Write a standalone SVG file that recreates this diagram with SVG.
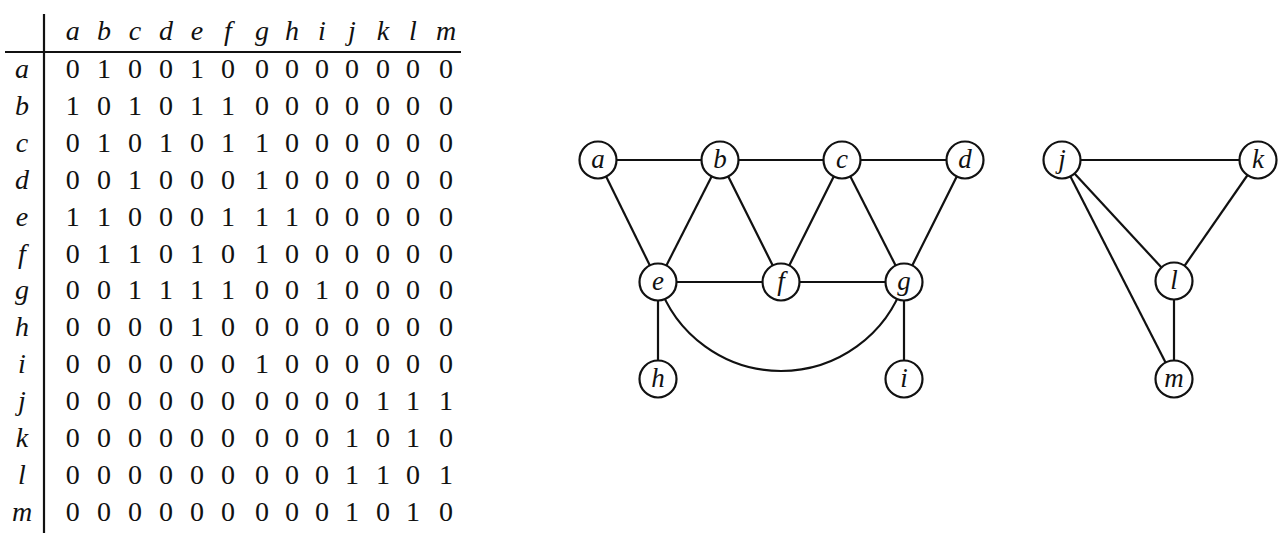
<svg xmlns="http://www.w3.org/2000/svg" width="1285" height="533" viewBox="0 0 1285 533">
<style>
.m{font-family:"Liberation Serif","DejaVu Serif",serif;font-size:28px;fill:#111;text-anchor:middle}
.it{font-style:italic}
.rule{stroke:#111;stroke-width:2.2;fill:none}
.edge{stroke:#111;stroke-width:2.2;fill:none}
.node circle{fill:#fff;stroke:#111;stroke-width:2.2}
.node text{font-family:"Liberation Serif","DejaVu Serif",serif;font-style:italic;font-size:27px;fill:#111;text-anchor:middle}
</style>
<rect width="1285" height="533" fill="#fff"/>
<g id="matrix">
<line class="rule" x1="44" y1="14" x2="44" y2="533"/>
<line class="rule" x1="5" y1="52" x2="461" y2="52"/>
<text class="m it" x="72.7 104 135 166 197 228 262 292 322 352 383 413 446" y="40">abcdefghijklm</text>
<text class="m it" x="22" y="78">a</text>
<text class="m it" x="22" y="114.9">b</text>
<text class="m it" x="22" y="151.8">c</text>
<text class="m it" x="22" y="188.7">d</text>
<text class="m it" x="22" y="225.6">e</text>
<text class="m it" x="22" y="262.5">f</text>
<text class="m it" x="22" y="299.4">g</text>
<text class="m it" x="22" y="336.3">h</text>
<text class="m it" x="22" y="373.2">i</text>
<text class="m it" x="22" y="410.1">j</text>
<text class="m it" x="22" y="447">k</text>
<text class="m it" x="22" y="483.9">l</text>
<text class="m it" x="22" y="520.8">m</text>
<text class="m" x="72.7 104 135 166 197 228 262 292 322 352 383 413 446" y="78">0100100000000</text>
<text class="m" x="72.7 104 135 166 197 228 262 292 322 352 383 413 446" y="114.9">1010110000000</text>
<text class="m" x="72.7 104 135 166 197 228 262 292 322 352 383 413 446" y="151.8">0101011000000</text>
<text class="m" x="72.7 104 135 166 197 228 262 292 322 352 383 413 446" y="188.7">0010001000000</text>
<text class="m" x="72.7 104 135 166 197 228 262 292 322 352 383 413 446" y="225.6">1100011100000</text>
<text class="m" x="72.7 104 135 166 197 228 262 292 322 352 383 413 446" y="262.5">0110101000000</text>
<text class="m" x="72.7 104 135 166 197 228 262 292 322 352 383 413 446" y="299.4">0011110010000</text>
<text class="m" x="72.7 104 135 166 197 228 262 292 322 352 383 413 446" y="336.3">0000100000000</text>
<text class="m" x="72.7 104 135 166 197 228 262 292 322 352 383 413 446" y="373.2">0000001000000</text>
<text class="m" x="72.7 104 135 166 197 228 262 292 322 352 383 413 446" y="410.1">0000000000111</text>
<text class="m" x="72.7 104 135 166 197 228 262 292 322 352 383 413 446" y="447">0000000001010</text>
<text class="m" x="72.7 104 135 166 197 228 262 292 322 352 383 413 446" y="483.9">0000000001101</text>
<text class="m" x="72.7 104 135 166 197 228 262 292 322 352 383 413 446" y="520.8">0000000001010</text>
</g>
<g id="edges">
<line class="edge" x1="598" y1="160" x2="720" y2="160"/>
<line class="edge" x1="720" y1="160" x2="842" y2="160"/>
<line class="edge" x1="842" y1="160" x2="965" y2="160"/>
<line class="edge" x1="598" y1="160" x2="658" y2="282"/>
<line class="edge" x1="720" y1="160" x2="658" y2="282"/>
<line class="edge" x1="720" y1="160" x2="781" y2="282"/>
<line class="edge" x1="842" y1="160" x2="781" y2="282"/>
<line class="edge" x1="842" y1="160" x2="904" y2="282"/>
<line class="edge" x1="965" y1="160" x2="904" y2="282"/>
<line class="edge" x1="658" y1="282" x2="904" y2="282"/>
<line class="edge" x1="658" y1="282" x2="658" y2="379"/>
<line class="edge" x1="904" y1="282" x2="904" y2="379"/>
<path class="edge" d="M658 282 A129.5 129.5 0 0 0 904 282"/>
<line class="edge" x1="1062" y1="160" x2="1258" y2="160"/>
<line class="edge" x1="1062" y1="160" x2="1174" y2="281"/>
<line class="edge" x1="1062" y1="160" x2="1174" y2="379"/>
<line class="edge" x1="1258" y1="160" x2="1174" y2="281"/>
<line class="edge" x1="1174" y1="281" x2="1174" y2="379"/>
</g>
<g id="node-a" class="node"><circle cx="598" cy="160" r="18.5"/><text x="598" y="168">a</text></g>
<g id="node-b" class="node"><circle cx="720" cy="160" r="18.5"/><text x="720" y="168">b</text></g>
<g id="node-c" class="node"><circle cx="842" cy="160" r="18.5"/><text x="842" y="168">c</text></g>
<g id="node-d" class="node"><circle cx="965" cy="160" r="18.5"/><text x="965" y="168">d</text></g>
<g id="node-e" class="node"><circle cx="658" cy="282" r="18.5"/><text x="658" y="290">e</text></g>
<g id="node-f" class="node"><circle cx="781" cy="282" r="18.5"/><text x="781" y="290">f</text></g>
<g id="node-g" class="node"><circle cx="904" cy="282" r="18.5"/><text x="904" y="290">g</text></g>
<g id="node-h" class="node"><circle cx="658" cy="379" r="18.5"/><text x="658" y="387">h</text></g>
<g id="node-i" class="node"><circle cx="904" cy="379" r="18.5"/><text x="904" y="387">i</text></g>
<g id="node-j" class="node"><circle cx="1062" cy="160" r="18.5"/><text x="1062" y="168">j</text></g>
<g id="node-k" class="node"><circle cx="1258" cy="160" r="18.5"/><text x="1258" y="168">k</text></g>
<g id="node-l" class="node"><circle cx="1174" cy="281" r="18.5"/><text x="1174" y="289">l</text></g>
<g id="node-m" class="node"><circle cx="1174" cy="379" r="18.5"/><text x="1174" y="387">m</text></g>
</svg>
